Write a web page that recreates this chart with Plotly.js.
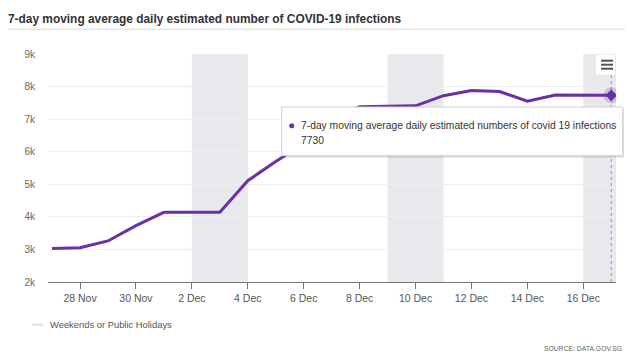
<!DOCTYPE html>
<html>
<head>
<meta charset="utf-8">
<script src="https://cdn.plot.ly/plotly-3.0.1.min.js"></script>
<style>
  html, body { margin: 0; padding: 0; background: #fff; }
  #chart { width: 640px; height: 363px; }
</style>
</head>
<body>
<div id="chart"></div>
<script>
// ---- data ----
const dates = [
  '2021-11-27','2021-11-28','2021-11-29','2021-11-30','2021-12-01','2021-12-02','2021-12-03',
  '2021-12-04','2021-12-05','2021-12-06','2021-12-07','2021-12-08','2021-12-09','2021-12-10',
  '2021-12-11','2021-12-12','2021-12-13','2021-12-14','2021-12-15','2021-12-16','2021-12-17'
];
const infections = [
  3030, 3050, 3260, 3730, 4140, 4140, 4140,
  5110, 5700, 6250, 7000, 7380, 7390, 7410,
  7720, 7880, 7850, 7550, 7740, 7740, 7730
];
const holidayStarts = ['2021-12-02', '2021-12-09', '2021-12-16'];
const holidayEnds   = ['2021-12-04', '2021-12-11', '2021-12-18'];
const yTickVals  = [2000, 3000, 4000, 5000, 6000, 7000, 8000, 9000];
const yTickText  = ['2k', '3k', '4k', '5k', '6k', '7k', '8k', '9k'];
const titleText  = '7-day moving average daily estimated number of COVID-19 infections';
const seriesName = '7-day moving average daily estimated numbers of covid 19 infections';
const legendText = 'Weekends or Public Holidays';
const sourceText = 'SOURCE: DATA.GOV.SG';

// ---- styling ----
const PURPLE = '#6b2fa9';
const BAND = '#e8e9ed';
const FONT = 'Liberation Sans, Arial, sans-serif';

// pixel -> paper helpers (plot area: x 48..616, y 54..282)
const L = 48, R = 616, T = 54.3, B = 282.3;
const px = v => (v - L) / (R - L);
const py = v => (B - v) / (B - T);

const lastIdx = dates.length - 1;

const traces = [
  {
    x: dates, y: infections, type: 'scatter', mode: 'lines',
    line: { color: PURPLE, width: 3 }, name: seriesName, showlegend: false,
    hoverinfo: 'skip'
  },
  {
    x: [dates[lastIdx]], y: [infections[lastIdx]], type: 'scatter', mode: 'markers',
    marker: { symbol: 'circle', size: 16, color: 'rgba(107,47,169,0.22)' },
    showlegend: false, hoverinfo: 'skip'
  },
  {
    x: [dates[lastIdx]], y: [infections[lastIdx]], type: 'scatter', mode: 'markers',
    marker: { symbol: 'diamond', size: 9, color: PURPLE, line: { color: '#fff', width: 0 } },
    showlegend: false, hoverinfo: 'skip'
  }
];

const shapes = [];
// holiday bands
for (let i = 0; i < holidayStarts.length; i++) {
  shapes.push({
    type: 'rect', xref: 'x', yref: 'paper', layer: 'below',
    x0: holidayStarts[i], x1: holidayEnds[i], y0: 0, y1: 1,
    fillcolor: BAND, line: { width: 0 }
  });
}
// spike line at last point
shapes.push({
  type: 'line', xref: 'x', yref: 'paper', layer: 'above',
  x0: dates[lastIdx], x1: dates[lastIdx], y0: 0, y1: 1,
  line: { color: 'rgba(107,47,169,0.55)', width: 1, dash: 'dot' }
});
// title rule
shapes.push({
  type: 'line', xref: 'paper', yref: 'paper',
  x0: px(8), x1: px(625), y0: py(29.5), y1: py(29.5),
  line: { color: '#dcdcdc', width: 1 }
});
// hamburger menu box
shapes.push({
  type: 'rect', xref: 'paper', yref: 'paper', layer: 'above',
  x0: px(596), x1: px(615), y0: py(75), y1: py(55),
  fillcolor: '#ffffff', line: { width: 0 }
});
[61, 65, 69].forEach(yy => shapes.push({
  type: 'line', xref: 'paper', yref: 'paper', layer: 'above',
  x0: px(601), x1: px(613), y0: py(yy), y1: py(yy),
  line: { color: '#555', width: 2 }
}));
// tooltip shadow + box
shapes.push({
  type: 'rect', xref: 'paper', yref: 'paper', layer: 'above',
  x0: px(283), x1: px(624), y0: py(158), y1: py(109),
  fillcolor: 'rgba(0,0,0,0.12)', line: { width: 0 }
});
shapes.push({
  type: 'rect', xref: 'paper', yref: 'paper', layer: 'above',
  x0: px(281.7), x1: px(622.7), y0: py(156), y1: py(107.3),
  fillcolor: '#ffffff', line: { color: '#d0d0d0', width: 1 }
});
// tooltip dot
shapes.push({
  type: 'circle', xref: 'paper', yref: 'paper', layer: 'above',
  x0: px(289.2), x1: px(294.2), y0: py(128.5), y1: py(123.5),
  fillcolor: PURPLE, line: { width: 0 }
});
// legend swatch
shapes.push({
  type: 'line', xref: 'paper', yref: 'paper',
  x0: px(32), x1: px(43), y0: py(325), y1: py(325),
  line: { color: '#dedede', width: 2 }
});

const annotations = [
  {
    xref: 'paper', yref: 'paper', x: px(299.3), y: py(126), xanchor: 'left', yanchor: 'middle',
    text: seriesName, showarrow: false, font: { family: FONT, size: 10.3, color: '#333' }
  },
  {
    xref: 'paper', yref: 'paper', x: px(299.3), y: py(140.7), xanchor: 'left', yanchor: 'middle',
    text: String(infections[lastIdx]), showarrow: false, font: { family: FONT, size: 10.3, color: '#333' }
  },
  {
    xref: 'paper', yref: 'paper', x: px(47.5), y: py(325), xanchor: 'left', yanchor: 'middle',
    text: legendText, showarrow: false, font: { family: FONT, size: 9.4, color: '#555' }
  },
  {
    xref: 'paper', yref: 'paper', x: px(624), y: py(349), xanchor: 'right', yanchor: 'middle',
    text: sourceText, showarrow: false, font: { family: FONT, size: 6.8, color: '#666' }
  }
];

const layout = {
  width: 640, height: 363,
  margin: { l: 48, r: 24, t: 54.3, b: 80.7, pad: 0 },
  paper_bgcolor: '#fff', plot_bgcolor: '#fff',
  showlegend: false,
  title: {
    text: '<b>' + titleText + '</b>',
    xref: 'container', yref: 'container', x: 8 / 640, xanchor: 'left',
    y: 1 - 19 / 363, yanchor: 'middle',
    font: { family: FONT, size: 11.9, color: '#333' }
  },
  xaxis: {
    type: 'date',
    range: ['2021-11-26 20:30', '2021-12-17 04:05'],
    tick0: '2021-11-28', dtick: 2 * 86400000, tickformat: '%-d %b',
    showgrid: false, zeroline: false,
    showline: true, linecolor: '#777', linewidth: 1,
    ticks: 'outside', ticklen: 6, tickcolor: '#777', tickwidth: 1,
    tickfont: { family: FONT, size: 10.5, color: '#555' },
    fixedrange: true
  },
  yaxis: {
    range: [2000, 9000],
    tickvals: yTickVals, ticktext: yTickText,
    showgrid: true, gridcolor: '#eeeeee', gridwidth: 1,
    zeroline: false, showline: false, ticks: '',
    ticklabelstandoff: 12,
    tickfont: { family: FONT, size: 10, color: '#666' },
    fixedrange: true
  },
  shapes: shapes,
  annotations: annotations
};

Plotly.newPlot('chart', traces, layout, { displayModeBar: false, staticPlot: true });
</script>
</body>
</html>
